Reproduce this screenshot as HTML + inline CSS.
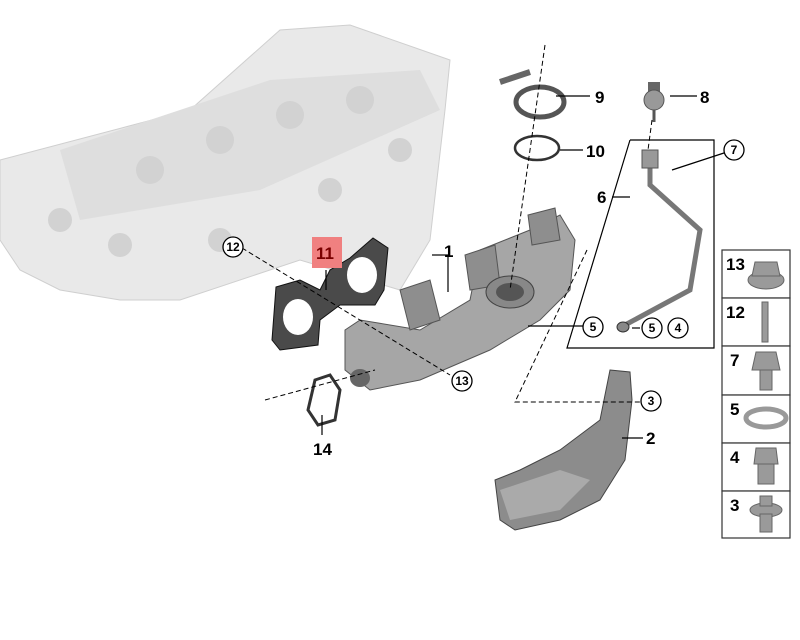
<!DOCTYPE html>
<html><head><style>
body{margin:0;background:#fff;}
svg{display:block;font-family:"Liberation Sans",sans-serif;}
.b{font-weight:bold;font-size:17px;fill:#000}
.c{fill:#fff;stroke:#000;stroke-width:1.3}
.ct{font-size:12px;font-weight:bold;text-anchor:middle}
</style></head><body>
<svg width="800" height="640" viewBox="0 0 800 640">
<polygon points="0,160 190,110 280,30 350,25 450,60 445,110 430,240 400,290 300,260 180,300 120,300 60,290 20,270 0,240" fill="#e9e9e9" stroke="#cfcfcf"/>
<polygon points="60,150 270,80 420,70 440,110 260,190 80,220" fill="#dedede"/>
<g fill="#d2d2d2">
<circle cx="150" cy="170" r="14"/><circle cx="220" cy="140" r="14"/><circle cx="290" cy="115" r="14"/><circle cx="360" cy="100" r="14"/>
<circle cx="60" cy="220" r="12"/><circle cx="120" cy="245" r="12"/><circle cx="220" cy="240" r="12"/><circle cx="330" cy="190" r="12"/><circle cx="400" cy="150" r="12"/>
</g>
<path d="M276,287 L300,280 L320,290 L330,270 L350,258 L373,238 L388,248 L384,290 L375,305 L340,305 L320,320 L318,345 L280,350 L272,340 Z" fill="#4a4a4a" stroke="#111"/>
<ellipse cx="298" cy="317" rx="15" ry="18" fill="#fff"/>
<ellipse cx="362" cy="275" rx="15" ry="18" fill="#fff"/>
<path d="M345,330 L360,320 L420,330 L470,300 L480,250 L530,230 L560,215 L575,240 L570,290 L540,320 L490,350 L420,380 L370,390 L345,370 Z" fill="#a6a6a6" stroke="#555"/>
<path d="M400,290 L430,280 L440,320 L410,330 Z" fill="#8e8e8e" stroke="#555"/>
<path d="M465,255 L495,245 L500,285 L470,290 Z" fill="#8e8e8e" stroke="#555"/>
<path d="M528,215 L555,208 L560,240 L532,245 Z" fill="#8e8e8e" stroke="#555"/>
<ellipse cx="510" cy="292" rx="24" ry="16" fill="#888" stroke="#444"/>
<ellipse cx="510" cy="292" rx="14" ry="9" fill="#555"/>
<ellipse cx="360" cy="378" rx="10" ry="9" fill="#666"/>
<path d="M315,380 L330,375 L340,390 L335,420 L318,425 L308,410 Z" fill="none" stroke="#333" stroke-width="3"/>
<path d="M610,370 L630,372 L632,400 L625,460 L600,500 L560,520 L515,530 L500,520 L495,480 L520,470 L560,450 L600,420 Z" fill="#8c8c8c" stroke="#444"/>
<path d="M500,490 L560,470 L590,480 L560,510 L510,520 Z" fill="#aaa"/>
<path d="M650,155 L650,185 L700,230 L690,290 L625,325" fill="none" stroke="#777" stroke-width="5"/>
<rect x="642" y="150" width="16" height="18" fill="#999" stroke="#555"/>
<ellipse cx="623" cy="327" rx="6" ry="5" fill="#888" stroke="#333"/>
<rect x="648" y="82" width="12" height="16" fill="#666"/><circle cx="654" cy="100" r="10" fill="#999" stroke="#555"/><line x1="654" y1="110" x2="654" y2="122" stroke="#555" stroke-width="3"/>
<ellipse cx="540" cy="102" rx="24" ry="15" fill="none" stroke="#555" stroke-width="5"/>
<line x1="500" y1="82" x2="530" y2="72" stroke="#666" stroke-width="6"/>
<ellipse cx="537" cy="148" rx="22" ry="12" fill="none" stroke="#333" stroke-width="2.5"/>
<g stroke="#000" stroke-width="1.2" fill="none">
<line x1="556" y1="96" x2="590" y2="96"/>
<line x1="560" y1="150" x2="583" y2="150"/>
<line x1="670" y1="96" x2="697" y2="96"/>
<line x1="672" y1="170" x2="727" y2="152"/>
<polyline points="612,197 630,197"/>
<polyline points="630,140 714,140 714,348 567,348 630,140"/>
<line x1="432" y1="255" x2="448" y2="255"/><line x1="448" y1="255" x2="448" y2="292"/>
<line x1="326" y1="270" x2="326" y2="290"/>
<line x1="322" y1="415" x2="322" y2="435"/>
<line x1="622" y1="438" x2="643" y2="438"/>
<line x1="528" y1="326" x2="583" y2="326"/>
<line x1="632" y1="328" x2="640" y2="328"/>
</g>
<g stroke="#000" stroke-width="1" stroke-dasharray="5,3" fill="none">
<line x1="242" y1="248" x2="450" y2="375"/>
<line x1="265" y1="400" x2="375" y2="370"/>
<polyline points="587,250 515,402 642,402"/>
<line x1="545" y1="45" x2="510" y2="290"/>
<line x1="652" y1="120" x2="648" y2="150"/>
</g>
<g>
<circle class="c" cx="233" cy="247" r="10"/><text class="ct" x="233" y="251">12</text>
<circle class="c" cx="462" cy="381" r="10"/><text class="ct" x="462" y="385">13</text>
<circle class="c" cx="734" cy="150" r="10"/><text class="ct" x="734" y="154">7</text>
<circle class="c" cx="593" cy="327" r="10"/><text class="ct" x="593" y="331">5</text>
<circle class="c" cx="652" cy="328" r="10"/><text class="ct" x="652" y="332">5</text>
<circle class="c" cx="678" cy="328" r="10"/><text class="ct" x="678" y="332">4</text>
<circle class="c" cx="651" cy="401" r="10"/><text class="ct" x="651" y="405">3</text>
</g>
<rect x="312" y="237" width="30" height="31" fill="#f08080"/>
<text class="b" x="316" y="259" style="fill:#7a0000">11</text>
<text class="b" x="444" y="257">1</text>
<text class="b" x="595" y="103">9</text>
<text class="b" x="586" y="157">10</text>
<text class="b" x="700" y="103">8</text>
<text class="b" x="597" y="203">6</text>
<text class="b" x="646" y="444">2</text>
<text class="b" x="313" y="455">14</text>
<g fill="#fff" stroke="#333" stroke-width="1.2">
<rect x="722" y="250" width="68" height="48"/><rect x="722" y="298" width="68" height="48"/>
<rect x="722" y="346" width="68" height="49"/><rect x="722" y="395" width="68" height="48"/>
<rect x="722" y="443" width="68" height="48"/><rect x="722" y="491" width="68" height="47"/>
</g>
<text class="b" x="726" y="270">13</text><text class="b" x="726" y="318">12</text>
<text class="b" x="730" y="366">7</text><text class="b" x="730" y="415">5</text>
<text class="b" x="730" y="463">4</text><text class="b" x="730" y="511">3</text>
<g fill="#9a9a9a" stroke="#666">
<ellipse cx="766" cy="280" rx="18" ry="9"/><polygon points="755,262 777,262 780,276 752,276"/>
<rect x="762" y="302" width="6" height="40"/>
<polygon points="756,352 776,352 780,370 752,370"/><rect x="760" y="370" width="12" height="20"/>
<ellipse cx="766" cy="418" rx="20" ry="9" fill="none" stroke="#999" stroke-width="5"/>
<polygon points="756,448 776,448 778,464 754,464"/><rect x="758" y="464" width="16" height="20"/>
<ellipse cx="766" cy="510" rx="16" ry="7"/><rect x="760" y="514" width="12" height="18"/><rect x="760" y="496" width="12" height="10"/>
</g>
</svg>
</body></html>
